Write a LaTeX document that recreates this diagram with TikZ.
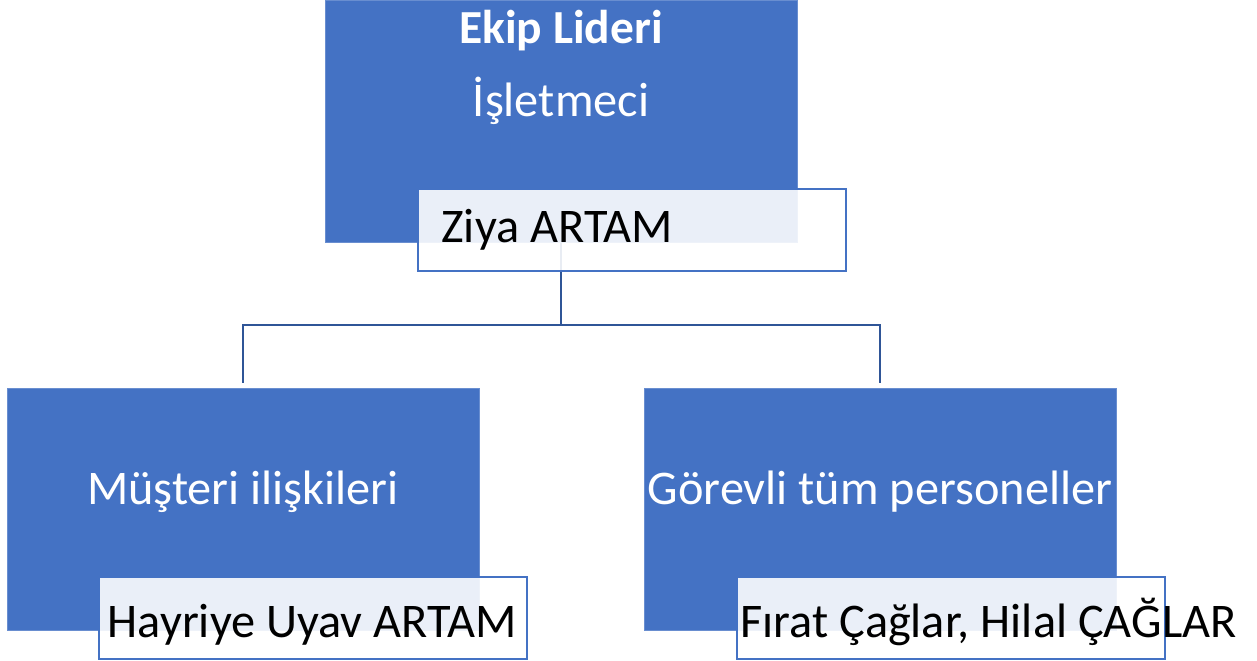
\documentclass[tikz,border=0pt]{standalone}
\usepackage{fontspec}
\setmainfont{Carlito}
\usepackage{tikz}
\usetikzlibrary{positioning,calc}
\pgfdeclarelayer{background}
\pgfsetlayers{background,main}
\definecolor{boxblue}{HTML}{4472C4}
\definecolor{linkblue}{HTML}{2F5597}

\begin{document}
\begin{tikzpicture}[x=0.02cm, y=-0.02cm,
                rolebox/.style={rectangle, fill=boxblue, draw=boxblue!80!white, line width=0.4pt, inner sep=0pt, outer sep=0pt, minimum width=9.44cm, minimum height=4.84cm},
                namebox/.style={rectangle, fill=white, fill opacity=0.89, draw=boxblue, line width=1.1pt, inner sep=0pt, outer sep=0pt, minimum width=8.56cm, minimum height=1.64cm},
                roletext/.style={text=white, inner sep=0pt, anchor=base, font=\fontsize{27.5}{33}\selectfont},
                nametext/.style={text=black, inner sep=0pt, font=\fontsize{27.5}{33}\selectfont},
                link/.style={draw=linkblue, line width=1.1pt},
            ]

            \useasboundingbox (0,0) rectangle (1257,661);

            % role boxes
            \node[rolebox] (lead) at (561, 121) {};
            \node[rolebox] (relations) at (243, 509) {};
            \node[rolebox] (staff) at (880, 509) {};

            % connectors
            \coordinate (bus) at (561, 325);
            \begin{pgfonlayer}{background}
                \draw[link] (lead.south) -- (bus);
                \draw[link, shorten >=3] (bus) -| (relations.north);
                \draw[link, shorten >=3] (bus) -| (staff.north);
            \end{pgfonlayer}

            % name boxes
            \node[namebox] (leadname) at (632, 230) {};
            \node[namebox] (relationsname) at (313, 618) {};
            \node[namebox] (staffname) at (951, 618) {};

            % texts
            \node[roletext, font=\fontsize{27}{33}\selectfont\bfseries] (leadtitle) at (561, 44) {Ekip Lideri};
            \node[roletext] (leadrole) at (561, 117) {İşletmeci};
            \node[roletext] (relationstext) at (243, 505) {Müşteri ilişkileri};
            \node[roletext] (stafftext) at (880, 505) {Görevli tüm personeller};

            \node[nametext, anchor=base west] (leadperson) at (441, 243) {Ziya ARTAM};
            \node[nametext, anchor=base] (relationsperson) at (312, 637) {Hayriye Uyav ARTAM};
            \node[nametext, anchor=base west] (staffperson) at (740, 637) {Fırat Çağlar, Hilal ÇAĞLAR};
        \end{tikzpicture}
\end{document}
